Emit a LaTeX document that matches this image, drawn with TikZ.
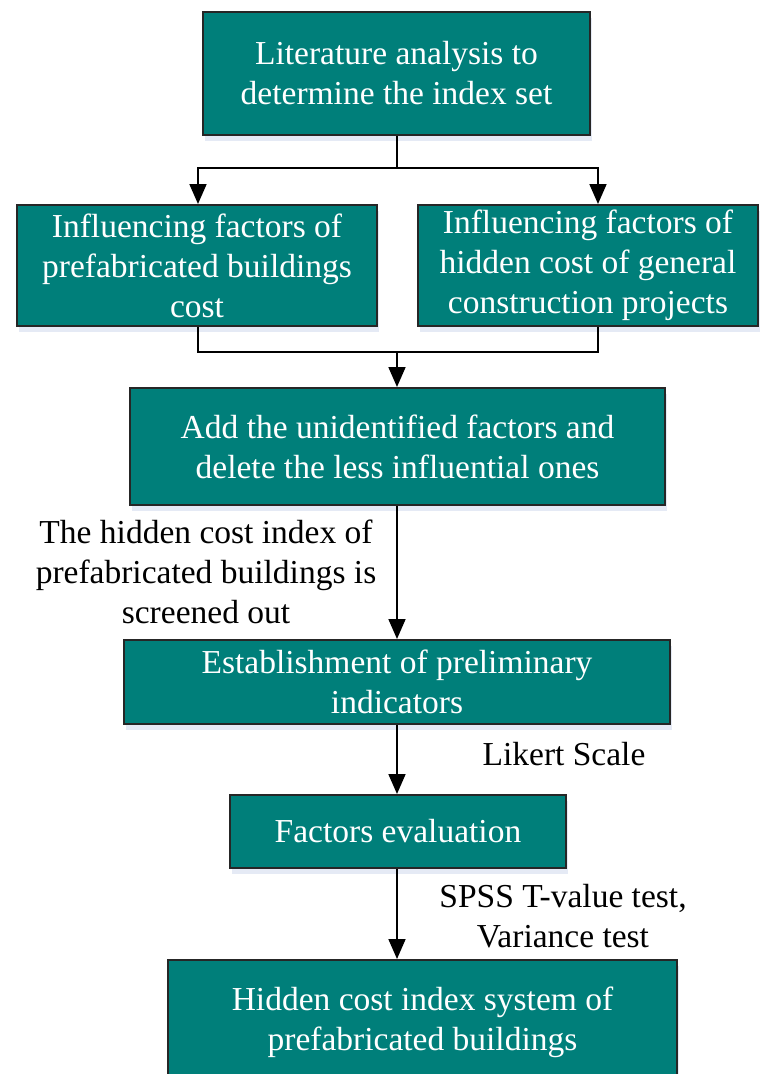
\documentclass[tikz,border=0pt]{standalone}
\usepackage{fontspec}
\setmainfont{Liberation Serif}
\usetikzlibrary{arrows.meta,shadows}
\definecolor{boxfill}{RGB}{0,127,122}
\definecolor{shade}{RGB}{150,170,215}
\tikzset{
  flowbox/.style={draw=black!85, line width=2pt, fill=boxfill, text=white,
    align=center, inner sep=2pt, font=\fontsize{33.5}{40}\selectfont,
    drop shadow={shadow xshift=2pt, shadow yshift=-6pt, opacity=0.25, fill=shade}},
  note/.style={align=center, text=black, font=\fontsize{33.5}{40}\selectfont},
  link/.style={draw=black, line width=1.8pt},
  arr/.style={link, -{Triangle[length=20pt,width=17pt]}}
}
\begin{document}
\begin{tikzpicture}[x=1pt,y=-1pt]
\useasboundingbox (0,0) rectangle (768,1074);
\clip (0,0) rectangle (768,1074);

% process boxes
\node[flowbox, minimum width=387pt, minimum height=123pt] (top) at (396.5,73.5)
  {Literature analysis to\\determine the index set};
\node[flowbox, minimum width=360pt, minimum height=121pt] (left) at (197,265.5)
  {Influencing factors of\\prefabricated buildings\\cost};
\node[flowbox, minimum width=340pt, minimum height=121pt] (right) at (588,265.5)
  {Influencing factors of\\hidden cost of general\\construction projects};
\node[flowbox, minimum width=535pt, minimum height=117pt] (add) at (397.5,446.5)
  {Add the unidentified factors and\\delete the less influential ones};
\node[flowbox, minimum width=546pt, minimum height=84pt] (est) at (397,682)
  {Establishment of preliminary\\indicators};
\node[flowbox, minimum width=336pt, minimum height=73pt] (fac) at (398,831.5)
  {Factors evaluation};
\node[flowbox, minimum width=509pt, minimum height=124pt] (bot) at (422.5,1022)
  {Hidden cost index system of\\prefabricated buildings};

% split and merge points on the main axis
\coordinate (split) at (397,168);
\coordinate (merge) at (397,352);

% connectors
\draw[link] (split |- top.south) -- (split);
\draw[arr] (split) -| ([xshift=1pt]left.north);
\draw[arr] (split) -| ([xshift=10pt]right.north);
\draw[link] ([xshift=1pt]left.south) |- (merge) -| ([xshift=10pt]right.south);
\draw[arr] (merge) -- (merge |- add.north);
\draw[arr] (merge |- add.south) -- (merge |- est.north);
\draw[arr] (merge |- est.south) -- (merge |- fac.north);
\draw[arr] (merge |- fac.south) -- (merge |- bot.north);

% annotations
\node[note] (n1) at (206,572)
  {The hidden cost index of\\prefabricated buildings is\\screened out};
\node[note] (n2) at (564,754) {Likert Scale};
\node[note] (n3) at (563,916) {SPSS T-value test,\\Variance test};
\end{tikzpicture}
\end{document}
